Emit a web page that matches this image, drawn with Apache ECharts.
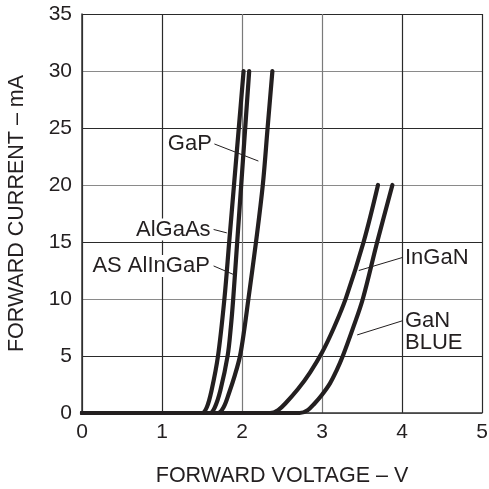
<!DOCTYPE html>
<html>
<head>
<meta charset="utf-8">
<script src="https://cdn.jsdelivr.net/npm/echarts@6/dist/echarts.min.js"></script>
<style>
html,body{margin:0;padding:0;background:#fff;}
#chart{width:489px;height:489px;}
</style>
</head>
<body>
<div id="chart"></div>
<script>
// Forward voltage (V) / forward current (mA) pairs
const algaasV   = [0, 1.42, 1.50, 1.56, 1.62, 1.70, 1.78, 1.84, 1.90, 1.96, 2.02];
const algaasI   = [0, 0,    0,    0.5,  2.0,  5,    10,   15,   20,   25,   30];
const alingapV  = [0, 1.52, 1.60, 1.66, 1.73, 1.82, 1.86, 1.89, 1.94, 1.99, 2.04, 2.09];
const alingapI  = [0, 0,    0,    0.5,  2.0,  5,    7.5,  10,   15,   20,   25,   30];
const gapV      = [0, 1.62, 1.70, 1.77, 1.84, 1.91, 1.975, 2.03, 2.08, 2.175, 2.26, 2.32, 2.38];
const gapI      = [0, 0,    0,    0.5,  1.8,  3.3,  5,     7.4,  10,   15,    20,   25,   30];
const inganV    = [0, 2.25, 2.35, 2.45, 2.55, 2.70, 2.85, 3.00, 3.15, 3.30, 3.52, 3.70];
const inganI    = [0, 0,    0,    0.25, 0.9,  2.1,  3.55, 5.3,  7.5,  10.1, 15,   20];
const ganV      = [0, 2.62, 2.72, 2.82, 2.91, 3.00, 3.10, 3.18, 3.26, 3.385, 3.51, 3.69, 3.88];
const ganI      = [0, 0,    0,    0.25, 0.86, 1.6,  2.6,  3.7,  5,    7.4,   10,   15,   20];

const xTicks = [0, 1, 2, 3, 4, 5];
const yTicks = [0, 5, 10, 15, 20, 25, 30, 35];

// Annotation texts
const labelGaP = 'GaP';
const labelAlGaAs = 'AlGaAs';
const labelAlInGaP = 'AS AlInGaP';
const labelInGaN = 'InGaN';
const labelGaN = 'GaN\nBLUE';

const FONT = '"Liberation Sans", Arial, Helvetica, sans-serif';
const INK = '#231f20';

function pairs(v, i) { return v.map((x, k) => [x, i[k]]); }

const chart = echarts.init(document.getElementById('chart'), null, {renderer: 'canvas'});

function curve(name, v, i) {
  return {
    name: name, type: 'line', data: pairs(v, i), smooth: 0.35,
    symbol: 'none', clip: false,
    lineStyle: {color: INK, width: 4.2, cap: 'round', join: 'round'},
    z: 5
  };
}

chart.setOption({
  animation: false,
  backgroundColor: '#fff',
  grid: {left: 82, right: 7, top: 14, bottom: 76, outerBoundsMode: 'none', containLabel: false},
  xAxis: {
    type: 'value', min: xTicks[0], max: xTicks[xTicks.length - 1], interval: 1,
    name: 'FORWARD VOLTAGE – V', nameLocation: 'middle', nameGap: 52,
    nameTextStyle: {fontFamily: FONT, fontSize: 21.5, color: INK},
    axisLine: {show: true, lineStyle: {color: '#333', width: 1.5}},
    axisTick: {show: false},
    axisLabel: {fontFamily: FONT, fontSize: 21, color: INK, margin: 9},
    splitLine: {show: true, lineStyle: {color: ['#2a2a2a', '#2a2a2a', '#7a7a7a', '#7a7a7a', '#2a2a2a', '#2a2a2a'], width: 1.2}}
  },
  yAxis: {
    type: 'value', min: yTicks[0], max: yTicks[yTicks.length - 1], interval: 5,
    name: 'FORWARD CURRENT – mA', nameLocation: 'middle', nameGap: 54, nameRotate: 90,
    nameTextStyle: {fontFamily: FONT, fontSize: 21.5, color: INK},
    axisLine: {show: true, lineStyle: {color: '#333', width: 1.5}},
    axisTick: {show: false},
    axisLabel: {fontFamily: FONT, fontSize: 21, color: INK, margin: 10},
    splitLine: {show: true, lineStyle: {color: ['#8a8a8a', '#2a2a2a'], width: 1.2}}
  },
  series: [
    curve('AlGaAs', algaasV, algaasI),
    curve('AS AlInGaP', alingapV, alingapI),
    curve('GaP', gapV, gapI),
    curve('InGaN', inganV, inganI),
    curve('GaN BLUE', ganV, ganI)
  ]
});

// Annotations: text anchor and leader end in data coordinates
const notes = [
  {text: labelGaP,     anchor: [1.635, 23.6], from: [1.655, 23.6], to: [2.205, 22.1], align: 'right'},
  {text: labelAlGaAs,  anchor: [1.62, 16.1],  from: [1.645, 16.1], to: [1.81, 15.8],  align: 'right'},
  {text: labelAlInGaP, anchor: [1.61, 12.9],  from: [1.645, 12.9], to: [1.91, 12.1],  align: 'right'},
  {text: labelInGaN,   anchor: [4.025, 13.6], from: [4.01, 13.65], to: [3.46, 12.5],  align: 'left'},
  {text: labelGaN,     anchor: [4.025, 7.1],  from: [4.01, 8.1],   to: [3.44, 6.85],  align: 'left'}
];

const g = [];
notes.forEach(n => {
  const a = chart.convertToPixel({gridIndex: 0}, n.anchor);
  const p1 = chart.convertToPixel({gridIndex: 0}, n.from);
  const p2 = chart.convertToPixel({gridIndex: 0}, n.to);
  g.push({
    type: 'line', z: 20,
    shape: {x1: p1[0], y1: p1[1], x2: p2[0], y2: p2[1]},
    style: {stroke: INK, lineWidth: 1}
  });
  g.push({
    type: 'text', z: 21, x: a[0], y: a[1],
    style: {
      text: n.text, fill: INK, font: '22px ' + FONT,
      align: n.align, verticalAlign: 'middle', lineHeight: 22,
      backgroundColor: '#fff', padding: [0, 1, 0, 1]
    }
  });
});
chart.setOption({graphic: g});
</script>
</body>
</html>
